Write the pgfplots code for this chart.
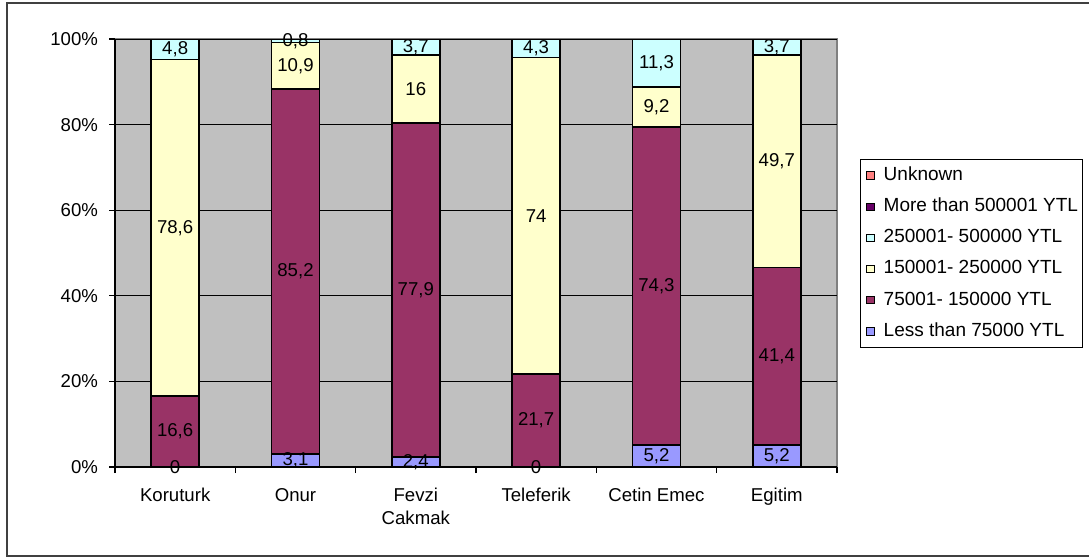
\documentclass[border=0pt]{standalone}
\usepackage{pgfplots}
\usepackage{pgfplotstable}
\pgfplotsset{compat=1.18}
\usepackage{fontspec}
\setmainfont{Liberation Sans}

\definecolor{cLess}{HTML}{9999FF}
\definecolor{cMid}{HTML}{993366}
\definecolor{cHigh}{HTML}{FFFFCC}
\definecolor{cTop}{HTML}{CCFFFF}
\definecolor{cMore}{HTML}{660066}
\definecolor{cUnk}{HTML}{FF8080}
\definecolor{plotbg}{HTML}{C0C0C0}

% income shares (%) per school, from the lowest band upwards
\pgfplotstableread{
x  a    b     c     d
0  0    16.6  78.6  4.8
1  3.1  85.2  10.9  0.8
2  2.4  77.9  16    3.7
3  0    21.7  74    4.3
4  5.2  74.3  9.2   11.3
5  5.2  41.4  49.7  3.7
}\incomedata
% midpoints of each segment, for the value labels
\pgfplotstablecreatecol[create col/expr={\thisrow{a}/2}]{ma}\incomedata
\pgfplotstablecreatecol[create col/expr={\thisrow{a}+\thisrow{b}/2}]{mb}\incomedata
\pgfplotstablecreatecol[create col/expr={\thisrow{a}+\thisrow{b}+\thisrow{c}/2}]{mc}\incomedata
\pgfplotstablecreatecol[create col/expr={\thisrow{a}+\thisrow{b}+\thisrow{c}+\thisrow{d}/2}]{md}\incomedata

\newcommand\chartfont{\fontsize{9.3}{11.5}\selectfont}
\newcommand\legendfont{\fontsize{9.5}{11.5}\selectfont}

\begin{document}
\begin{tikzpicture}
\useasboundingbox (0,0) rectangle (544.5pt,279.5pt);
% outer chart frame
\draw[black!75, line width=1pt] (560pt,278pt) -- (3.5pt,278pt) -- (3.5pt,1.5pt) -- (560pt,1.5pt);

\pgfplotsset{
  incomeaxis/.style={
    at={(57.5pt,46pt)}, anchor=south west,
    scale only axis, width=361pt, height=214pt,
    xmin=-0.5, xmax=5.5, ymin=0, ymax=100,
  },
}

\begin{axis}[
  incomeaxis,
  ybar stacked, bar width=0.4,
  axis lines*=left,
  axis line style={-, black, line width=0.6pt},
  axis background/.style={fill=plotbg, draw=black!50, line width=0.8pt},
  ymajorgrids, grid style={black, line width=0.5pt},
  tick align=outside, major tick length=3pt,
  tick style={black, line width=0.6pt},
  ytick={0,20,...,100},
  yticklabels={0\%,20\%,40\%,60\%,80\%,100\%},
  yticklabel style={font=\chartfont, xshift=-2pt},
  xtick={-0.5,0.5,...,5.5},
  x tick label as interval,
  xticklabels={Koruturk,Onur,{Fevzi\\Cakmak},Teleferik,Cetin Emec,Egitim},
  xticklabel style={font=\chartfont, align=center, yshift=-4pt},
  legend cell align=left,
  legend style={
    at={(1.0319,0.7196)}, anchor=north west,
    draw=black, line width=0.5pt,
    font=\legendfont,
    inner xsep=1.5pt, inner ysep=3.1pt,
    row sep=5.8pt,
    nodes={inner sep=0.6pt, text height=6.7pt, text depth=1.9pt},
  },
  legend image code/.code={%
    \path (0pt,0pt);
    \draw[#1, draw=black, line width=0.5pt] (1.4pt,-1.8pt) rectangle (5pt,1.8pt);
    \path (9pt,0pt);},
]
\addlegendimage{fill=cUnk}
\addlegendentry{Unknown}
\addlegendimage{fill=cMore}
\addlegendentry{More than 500001 YTL}
\addlegendimage{fill=cTop}
\addlegendentry{250001- 500000 YTL}
\addlegendimage{fill=cHigh}
\addlegendentry{150001- 250000 YTL}
\addlegendimage{fill=cMid}
\addlegendentry{75001- 150000 YTL}
\addlegendimage{fill=cLess}
\addlegendentry{Less than 75000 YTL}

\addplot[fill=cLess, draw=black, line width=0.9pt, forget plot] table[x=x, y=a] {\incomedata};
\addplot[fill=cMid,  draw=black, line width=0.9pt, forget plot] table[x=x, y=b] {\incomedata};
\addplot[fill=cHigh, draw=black, line width=0.9pt, forget plot] table[x=x, y=c] {\incomedata};
\addplot[fill=cTop,  draw=black, line width=0.9pt, forget plot] table[x=x, y=d] {\incomedata};
\end{axis}

% value labels centred in each segment
\begin{axis}[
  incomeaxis, hide axis,
  point meta=explicit,
  nodes near coords,
  nodes near coords align={center},
  every node near coord/.append style={font=\chartfont, text=black, inner sep=0pt},
  /pgf/number format/use comma,
  /pgf/number format/assume math mode=true,
]
\addplot[draw=none] table[x=x, y=ma, meta=a] {\incomedata};
\addplot[draw=none] table[x=x, y=mb, meta=b] {\incomedata};
\addplot[draw=none] table[x=x, y=mc, meta=c] {\incomedata};
\addplot[draw=none] table[x=x, y=md, meta=d] {\incomedata};
\end{axis}
\end{tikzpicture}
\end{document}
